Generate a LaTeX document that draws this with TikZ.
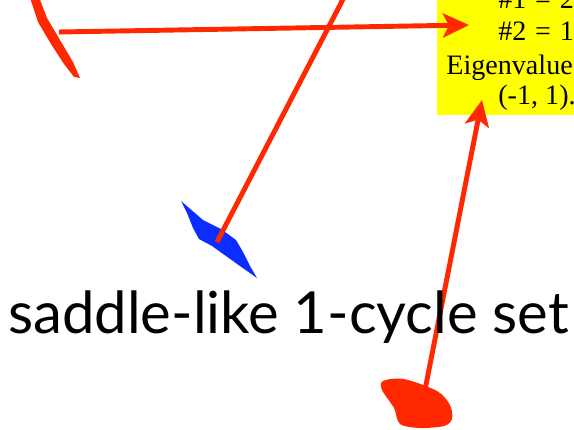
\documentclass[tikz,border=0pt]{standalone}
\usepackage{fontspec}
\setmainfont{Liberation Serif}
\newfontfamily\capfont{Lato}
\usetikzlibrary{arrows.meta}

\definecolor{hotred}{RGB}{255,40,0}
\definecolor{setblue}{RGB}{12,45,255}
\definecolor{notebg}{RGB}{255,255,0}

\begin{document}
\begin{tikzpicture}[x=0.02cm, y=-0.02cm,
  ptr/.style={draw=hotred, line width=2.8pt, -{Stealth[length=0.52cm, width=0.48cm, inset=0.12cm]}},
  ray/.style={draw=hotred, line width=2.8pt},
  notetxt/.style={anchor=base west, inner sep=0pt, font=\fontsize{16}{18}\selectfont},
  captxt/.style={anchor=base west, inner sep=0pt, font=\capfont\fontsize{33}{36}\selectfont}
]
\clip (0,0) rectangle (574,429);

% yellow note
\fill[notebg] (437,-5) rectangle (580,115);
\node[notetxt] (multA) at (498,9) {\#1 \kern1pt= \kern1pt2};
\node[notetxt] (multB) at (498,41) {\#2 \kern1pt= \kern1pt1};
\node[notetxt] (eigWord) at (446,74) {Eigenvalue};
\node[notetxt] (eigPair) at (498,104) {(-1, 1).};

% the sets
\fill[hotred] (28,-8) -- (37,-8) -- (47,18) -- (60,40) -- (73,62) -- (80,78)
  -- (74,77) -- (64,64) -- (51,44) -- (38,22) -- cycle;
\fill[setblue] (181,201) -- (203,220) -- (221,229) -- (236,240) -- (243,252)
  -- (250,266) -- (257,278) -- (240,266) -- (226,256) -- (212,246) -- (199,239) -- (193,228) -- (187,213) -- cycle;
\fill[hotred] plot[smooth cycle, tension=0.5] coordinates {(383,381) (404,379) (437,391)
  (450,405) (452,419) (444,426) (420,428) (400,424) (394,408) (382,390)};

% connectors
\coordinate (sliverEnd) at (59,32);
\coordinate (noteLeft) at (469,25);
\coordinate (blueCore) at (217,242);
\coordinate (offTop) at (353,-20);
\coordinate (blobTop) at (425,390);
\coordinate (noteBottom) at (482,100);

\draw[ptr] (sliverEnd) -- (noteLeft);
\draw[ray] (blueCore) -- (offTop);
\draw[ptr] (blobTop) -- (noteBottom);

% caption
\node[captxt] (caption) at (8,333) {saddle-like 1-cycle set};
\end{tikzpicture}
\end{document}
